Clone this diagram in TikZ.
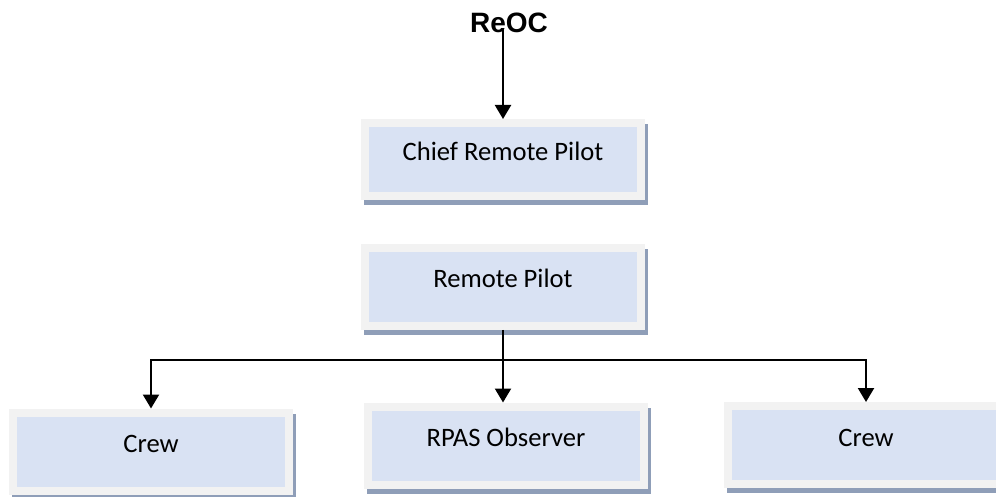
\documentclass[tikz,border=0pt]{standalone}
\usepackage{fontspec}
\setmainfont{Carlito}
\newfontfamily\headfont{Liberation Sans}
\usetikzlibrary{calc}
\usetikzlibrary{arrows.meta}
\definecolor{boxfill}{RGB}{217,226,243}
\definecolor{boxrim}{RGB}{242,242,242}
\definecolor{boxshade}{RGB}{143,158,184}
\tikzset{
  rolebox/.style={draw=boxrim,fill=boxfill,line width=4pt,inner sep=0pt,
    minimum width=138pt,minimum height=39pt,text height=8pt,text depth=7pt,
    font=\fontsize{13.3}{15}\selectfont,
    preaction={draw=boxshade,fill=boxshade,line width=4pt,
      transform canvas={shift={(1.5pt,-2.5pt)}}}}
}

\begin{document}
\begin{tikzpicture}[x=0.5pt,y=-0.5pt,>={Triangle[width=8pt,length=7pt]},line width=1.1pt]
            \useasboundingbox (0,0) rectangle (996,497);
            % draw the boxes
            \node[font=\headfont\bfseries\fontsize{14}{16}\selectfont,anchor=base] (reoc) at (509,33) {ReOC};
            \node[rolebox,minimum height=36.5pt] (chief) at (503,159.5) {Chief Remote Pilot};
            \node[rolebox] (rpilot) at (503,287) {Remote Pilot};
            \foreach \nm/\xx/\yy/\txt in {crewl/151/451.5/Crew,observer/506/445.5/RPAS Observer,crewr/866/445/Crew}
                \node[rolebox] (\nm) at (\xx,\yy) {\txt};
            % draw the links
            \draw[->] ($(reoc.base -| chief.north)+(0,-5)$) -- (chief.north);
            \draw[->] (rpilot.south) -- (rpilot.south |- observer.north);
            \coordinate (bus) at (503,360);
            \draw[->] (bus) -| (crewl.north);
            \draw[->] (bus) -| (crewr.north);
        \end{tikzpicture}
\end{document}
